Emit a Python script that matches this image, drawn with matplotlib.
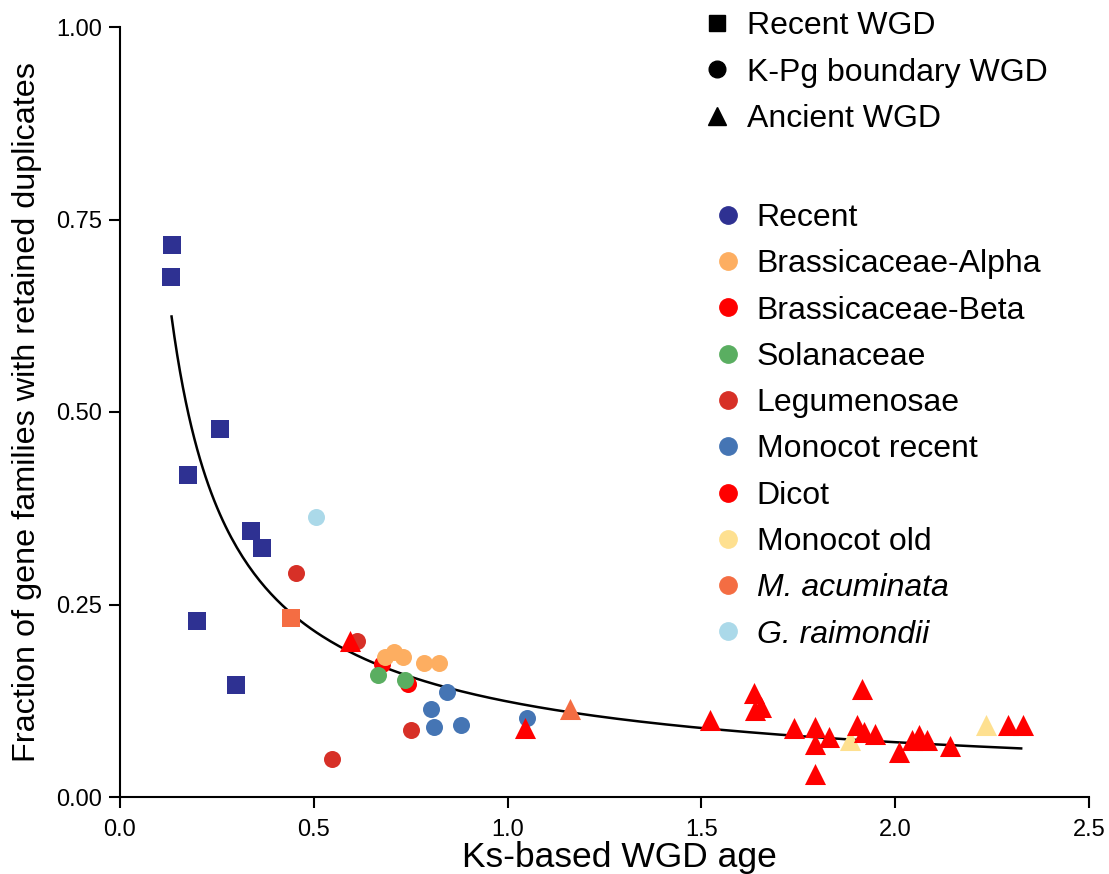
import matplotlib
matplotlib.use("Agg")
import numpy as np
import matplotlib.pyplot as plt
from matplotlib.lines import Line2D

# ---- data ----
recent_x = [0.134, 0.132, 0.258, 0.175, 0.338, 0.366, 0.199, 0.299]
recent_y = [0.717, 0.675, 0.478, 0.418, 0.345, 0.323, 0.229, 0.145]

bras_beta_x = [0.675, 0.744]
bras_beta_y = [0.173, 0.147]

bras_alpha_x = [0.684, 0.708, 0.731, 0.785, 0.822]
bras_alpha_y = [0.182, 0.188, 0.182, 0.174, 0.174]

solan_x = [0.665, 0.736]
solan_y = [0.158, 0.152]

legum_x = [0.454, 0.612, 0.751, 0.548]
legum_y = [0.291, 0.203, 0.087, 0.050]

mono_recent_x = [0.844, 0.802, 0.809, 0.879, 1.051]
mono_recent_y = [0.136, 0.114, 0.091, 0.093, 0.103]

graim_x = [0.506]
graim_y = [0.364]

macum_sq_x = [0.441]
macum_sq_y = [0.233]
macum_tri_x = [1.161]
macum_tri_y = [0.114]

mono_old_x = [1.884, 2.235]
mono_old_y = [0.074, 0.094]

dicot_x = [0.594, 1.044, 1.521, 1.636, 1.655, 1.637, 1.738, 1.793, 1.828, 1.793,
           1.793, 1.915, 1.901, 1.919, 1.948, 2.009, 2.044, 2.061, 2.081, 2.142,
           2.291, 2.329]
dicot_y = [0.203, 0.090, 0.100, 0.135, 0.117, 0.113, 0.090, 0.091, 0.078, 0.069,
           0.030, 0.140, 0.093, 0.085, 0.082, 0.058, 0.074, 0.080, 0.074, 0.066,
           0.094, 0.094]

# power-law fit shown in the figure: y = a * x^b
fit_a = 0.124
fit_b = -0.801
fit_range = (0.133, 2.325)

shape_labels = ["Recent WGD", "K-Pg boundary WGD", "Ancient WGD"]
group_labels = ["Recent", "Brassicaceae-Alpha", "Brassicaceae-Beta", "Solanaceae",
                "Legumenosae", "Monocot recent", "Dicot", "Monocot old",
                "M. acuminata", "G. raimondii"]
group_colors = ["#2e3192", "#fdae61", "#fe0000", "#5aae61", "#d73027",
                "#4575b4", "#ff0000", "#fee090", "#f46d43", "#abd9e9"]
col = dict(zip(["recent", "alpha", "beta", "solan", "legum", "monor",
                "dicot", "monoo", "macum", "graim"], group_colors))

plt.rcParams['font.family'] = ['Liberation Sans', 'DejaVu Sans']

fig = plt.figure(figsize=(11.09, 8.74), dpi=100)
ax = fig.add_axes([120 / 1109, 77 / 874, 969 / 1109, 770 / 874])

xs = np.linspace(fit_range[0], fit_range[1], 300)
ax.plot(xs, fit_a * xs ** fit_b, color="black", lw=1.8, zorder=1)

sq, ci, tr = 150, 150, 230
ax.scatter(recent_x, recent_y, marker="s", s=sq, color=col["recent"], lw=0, zorder=2)
ax.scatter(bras_beta_x, bras_beta_y, marker="o", s=ci, color=col["beta"], lw=0, zorder=2)
ax.scatter(bras_alpha_x, bras_alpha_y, marker="o", s=ci, color=col["alpha"], lw=0, zorder=2)
ax.scatter(solan_x, solan_y, marker="o", s=ci, color=col["solan"], lw=0, zorder=2)
ax.scatter(legum_x, legum_y, marker="o", s=ci, color=col["legum"], lw=0, zorder=2)
ax.scatter(mono_recent_x, mono_recent_y, marker="o", s=ci, color=col["monor"], lw=0, zorder=2)
ax.scatter(graim_x, graim_y, marker="o", s=ci, color=col["graim"], lw=0, zorder=2)
ax.scatter(macum_sq_x, macum_sq_y, marker="s", s=sq, color=col["macum"], lw=0, zorder=2)
ax.scatter(macum_tri_x, macum_tri_y, marker="^", s=tr, color=col["macum"], lw=0, zorder=2)
ax.scatter(mono_old_x, mono_old_y, marker="^", s=tr, color=col["monoo"], lw=0, zorder=2)
ax.scatter(dicot_x, dicot_y, marker="^", s=tr, color=col["dicot"], lw=0, zorder=3)

ax.set_xlim(0, 2.5)
ax.set_ylim(0, 1.0)
ax.set_xticks([0.0, 0.5, 1.0, 1.5, 2.0, 2.5])
ax.set_xticklabels(["0.0", "0.5", "1.0", "1.5", "2.0", "2.5"])
ax.set_yticks([0.0, 0.25, 0.5, 0.75, 1.0])
ax.set_yticklabels(["0.00", "0.25", "0.50", "0.75", "1.00"])
for s in ["top", "right"]:
    ax.spines[s].set_visible(False)
for s in ["left", "bottom"]:
    ax.spines[s].set_linewidth(1.5)
ax.tick_params(axis="both", direction="out", length=8, width=1.5, labelsize=17)
ax.tick_params(axis="x", pad=8)
ax.tick_params(axis="y", pad=5)
ax.set_xlabel("Ks-based WGD age", fontsize=25.5, va="center")
ax.set_ylabel("Fraction of gene families with retained duplicates", fontsize=23.3)
ax.xaxis.set_label_coords(0.5155, -0.078)
ax.yaxis.set_label_coords(-0.0805, 0.5)

# shape legend
shape_handles = [Line2D([], [], ls="", marker=m, color="black", markersize=ms)
                 for m, ms in [("s", 11), ("o", 12), ("^", 13)]]
leg1 = fig.legend(shape_handles, shape_labels, loc="upper left",
                  bbox_to_anchor=(704 / 1109, 1 - 11 / 874), frameon=False,
                  fontsize=23, handlelength=0.8, handletextpad=0.55,
                  labelspacing=0.52, borderpad=0, borderaxespad=0)

# colour legend
color_handles = [Line2D([], [], ls="", marker="o", color=c, markersize=12.5)
                 for c in group_colors]
leg2 = fig.legend(color_handles, group_labels, loc="upper left",
                  bbox_to_anchor=(715 / 1109, 1 - 203 / 874), frameon=False,
                  fontsize=23, handlelength=0.8, handletextpad=0.5,
                  labelspacing=0.51, borderpad=0, borderaxespad=0)
for t in leg2.get_texts()[8:]:
    t.set_fontstyle("italic")

fig.savefig("out.png", dpi=100)
